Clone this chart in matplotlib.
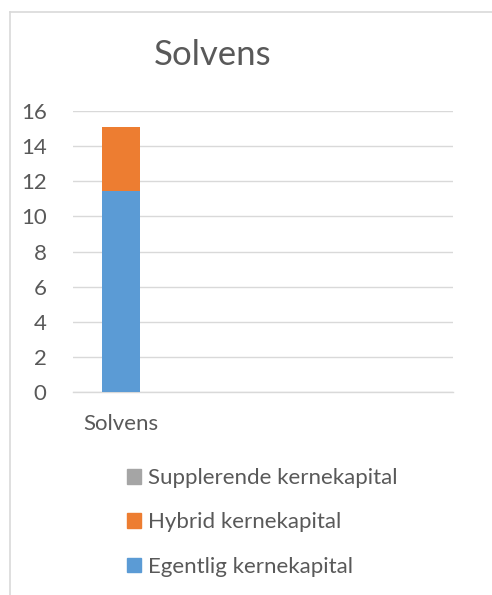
import matplotlib.pyplot as plt
from matplotlib.lines import Line2D
from matplotlib.patches import Patch

categories = ["Solvens", "", "", ""]
series = ["Egentlig kernekapital", "Hybrid kernekapital", "Supplerende kernekapital"]
egentlig = [11.45, 0, 0, 0]
hybrid = [3.65, 0, 0, 0]
supplerende = [0, 0, 0, 0]
colors = ["#5b9bd5", "#ed7d31", "#a5a5a5"]
yticks = [0, 2, 4, 6, 8, 10, 12, 14, 16]

plt.rcParams['font.family'] = ['Lato', 'DejaVu Sans']
txt = '#595959'
grid = '#d9d9d9'

fig = plt.figure(figsize=(4.92, 5.95), dpi=100)
W, H = 492, 595
ax = fig.add_axes([73 / W, 1 - 392.3 / H, 380 / W, (392.3 - 111) / H])

x = list(range(len(categories)))
bottom = [0] * len(categories)
for vals, c in zip([egentlig, hybrid, supplerende], colors):
    ax.bar(x, vals, width=0.4, bottom=bottom, color=c, zorder=3)
    bottom = [b + v for b, v in zip(bottom, vals)]

ax.set_xlim(-0.5, len(categories) - 0.5)
ax.set_ylim(0, 16)
ax.set_yticks(yticks)
ax.set_xticks(x)
ax.set_xticklabels(categories)
ax.yaxis.grid(True, color=grid, linewidth=1.0, zorder=0)
for s in ['top', 'right', 'left']:
    ax.spines[s].set_visible(False)
ax.spines['bottom'].set_color(grid)
ax.spines['bottom'].set_linewidth(1.0)
ax.tick_params(length=0, labelsize=16, colors=txt)
ax.tick_params(axis='y', pad=19)
ax.tick_params(axis='x', pad=15.5)

fig.text(213 / W, 1 - 55 / H, "Solvens", ha='center', va='center', fontsize=25, color=txt)

handles = [Patch(color=c, label=l) for c, l in zip(colors, series)][::-1]
leg = fig.legend(handles=handles, loc='upper left', bbox_to_anchor=(127 / W, 1 - 468 / H),
                 frameon=False, fontsize=16, handlelength=0.64, handleheight=0.64,
                 handletextpad=0.3, labelspacing=1.1, borderaxespad=0, borderpad=0)
for t in leg.get_texts():
    t.set_color(txt)

# cropped chart border (only left and top edges visible)
fig.add_artist(Line2D([9.5 / W, 9.5 / W], [0, 1 - 12 / H], color=grid, linewidth=1.2))
fig.add_artist(Line2D([9.5 / W, 1], [1 - 12 / H, 1 - 12 / H], color=grid, linewidth=1.2))

fig.savefig("out.png", dpi=100)
